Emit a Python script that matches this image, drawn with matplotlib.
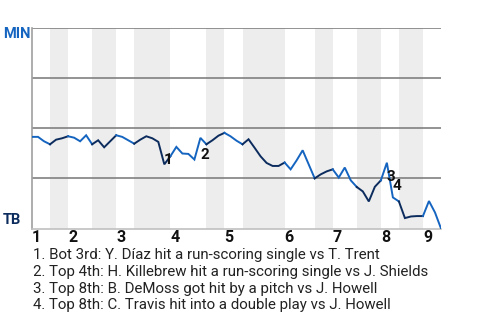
import numpy as np
import matplotlib.pyplot as plt

plt.rcParams['font.family'] = ['Roboto', 'DejaVu Sans']

# MIN win probability (%) after each plate appearance
min_wp = [45.7, 45.7, 43.5, 42.0, 44.3, 45.0, 46.0, 45.3, 43.5, 46.5,
          42.0, 44.0, 40.5, 43.5, 46.5, 45.7, 44.0, 42.3, 44.3, 46.0,
          45.0, 43.2, 32.0, 36.0, 40.7, 37.4, 37.2, 34.4, 45.2, 42.0,
          44.0, 46.3, 47.7, 46.0, 43.8, 42.0, 44.5, 40.3, 36.0, 32.7,
          31.2, 31.2, 32.9, 29.5, 34.0, 39.0, 32.0, 25.0, 27.0, 28.5,
          29.5, 25.4, 30.4, 24.0, 20.7, 18.5, 13.5, 20.8, 24.0, 32.8,
          15.5, 13.5, 5.2, 6.0, 6.2, 6.2, 13.7, 8.0, 0.0]

# plate appearances in each half inning (top 1, bot 1, top 2, ...)
half_pa = [3, 3, 4, 4, 3, 6, 6, 3, 3, 7, 5, 3, 4, 4, 3, 4, 3]
innings = ["1", "2", "3", "4", "5", "6", "7", "8", "9"]

events = [22, 28, 59, 60]
event_labels = ["1", "2", "3", "4"]
notes = [
    "1. Bot 3rd: Y. Díaz hit a run-scoring single vs T. Trent",
    "2. Top 4th: H. Killebrew hit a run-scoring single vs J. Shields",
    "3. Top 8th: B. DeMoss got hit by a pitch vs J. Howell",
    "4. Top 8th: C. Travis hit into a double play vs J. Howell",
]

blue = "#1565c0"
navy = "#0c2c5e"

fig = plt.figure(figsize=(4.8, 3.2), dpi=100)
ax = fig.add_axes([32 / 480, 1 - 228.5 / 320, 409 / 480, 200.5 / 320])

x = np.arange(len(min_wp))
y = np.array(min_wp)
bounds = np.concatenate([[0], np.cumsum(half_pa)])

for k in range(len(half_pa)):
    a, b = bounds[k], bounds[k + 1]
    if k % 2 == 1:
        ax.axvspan(a, b, color="#ededed", lw=0, zorder=0)
    ax.plot(x[a:b + 1], y[a:b + 1], color=blue if k % 2 == 0 else navy,
            lw=1.4, zorder=3, solid_joinstyle="miter")

for g in [25, 50, 75, 100]:
    ax.axhline(g, color="#808080", lw=1.2, zorder=1)

ax.set_xlim(0, len(min_wp) - 1)
ax.set_ylim(0, 100)
for s in ["top", "right"]:
    ax.spines[s].set_visible(False)
ax.spines["left"].set_color("#a0a0a0")
ax.spines["bottom"].set_color("#c0c0c0")
ax.spines["left"].set_linewidth(1.2)
ax.spines["bottom"].set_linewidth(1.2)
ax.set_yticks([])

ax.set_xticks(bounds[0:-1:2])
ax.set_xticklabels(innings, fontsize=11.5, fontweight="bold", color="#111111")
ax.tick_params(axis="x", length=0, pad=1)
for lab in ax.get_xticklabels():
    lab.set_horizontalalignment("left")

offsets = [(4, 4), (4, -17), (4, -14), (4, 11)]
for i, lab, off in zip(events, event_labels, offsets):
    ax.annotate(lab, (x[i], y[i]), xytext=off, textcoords="offset pixels",
                ha="center", va="center", fontsize=11, fontweight="bold",
                color="#111111", zorder=5)

fig.text(3 / 480, 1 - 34 / 320, "MIN", color=blue, fontsize=10.5,
         fontweight="bold", va="center", ha="left")
fig.text(3 / 480, 1 - 220 / 320, "TB", color=navy, fontsize=10.5,
         fontweight="bold", va="center", ha="left")

for j, note in enumerate(notes):
    fig.text(33 / 480, 1 - (255 + j * 16.8) / 320, note, fontsize=10.8,
             color="#222222", va="center", ha="left")

fig.savefig("out.png", dpi=100)
